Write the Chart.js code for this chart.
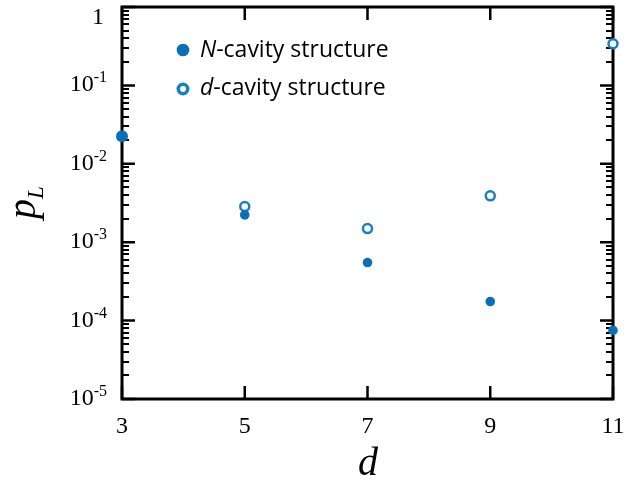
<!DOCTYPE html>
<html>
<head>
<meta charset="utf-8">
<script src="https://cdn.jsdelivr.net/npm/chart.js@4"></script>
<style>
 body{margin:0;background:#fff}
 canvas{display:block}
</style>
</head>
<body>
<canvas id="chart" width="641" height="481"></canvas>
<script>
// code distance d and logical error rate p_L
const dValues=[3,5,7,9,11];
const nCavity=[2.25e-2,2.23e-3,5.5e-4,1.75e-4,7.5e-5];
const dCavityD=[5,7,9,11];
const dCavity=[2.85e-3,1.49e-3,3.9e-3,3.4e-1];
const seriesNames=["N-cavity structure","d-cavity structure"];
const xTicks=[3,5,7,9,11];
const yExponents=[0,-1,-2,-3,-4,-5];

const blue="#0a6fb5";
const ring="#1a7fc1";
const serif="'Liberation Serif','Times New Roman',serif";

// box, inward ticks, tick labels, axis titles
const frame={
 id:"frame",
 beforeDatasetsDraw(c){
  const {ctx,chartArea:a,scales:{x,y}}=c;
  ctx.save();
  ctx.strokeStyle="#000";
  ctx.lineCap="butt";
  // minor ticks on both sides
  ctx.lineWidth=2;
  for(let e=-5;e<0;e++){
   for(let m=2;m<10;m++){
    const py=Math.round(y.getPixelForValue(m*Math.pow(10,e)));
    ctx.beginPath();
    ctx.moveTo(a.left,py);ctx.lineTo(a.left+7,py);
    ctx.moveTo(a.right,py);ctx.lineTo(a.right-7,py);
    ctx.stroke();
   }
  }
  // major ticks
  ctx.lineWidth=2.5;
  yExponents.forEach(e=>{
   const py=y.getPixelForValue(Math.pow(10,e));
   ctx.beginPath();
   ctx.moveTo(a.left,py);ctx.lineTo(a.left+13,py);
   ctx.moveTo(a.right,py);ctx.lineTo(a.right-13,py);
   ctx.stroke();
  });
  xTicks.forEach(v=>{
   const px=x.getPixelForValue(v);
   ctx.beginPath();
   ctx.moveTo(px,a.bottom);ctx.lineTo(px,a.bottom-13);
   ctx.moveTo(px,a.top);ctx.lineTo(px,a.top+13);
   ctx.stroke();
  });
  // box
  ctx.lineWidth=3;
  ctx.strokeRect(a.left,a.top,a.right-a.left,a.bottom-a.top);

  // tick labels
  ctx.fillStyle="#000";
  ctx.textBaseline="alphabetic";
  ctx.font="24px "+serif;
  ctx.textAlign="center";
  xTicks.forEach(v=>{
   ctx.fillText(String(v),x.getPixelForValue(v),433);
  });
  yExponents.forEach(e=>{
   const py=y.getPixelForValue(Math.pow(10,e));
   if(e===0){
    ctx.textAlign="right";
    ctx.font="24px "+serif;
    ctx.fillText("1",104,py+17);
    return;
   }
   ctx.font="16px "+serif;
   const sup=String(e);
   const sw=ctx.measureText(sup).width;
   ctx.textAlign="left";
   ctx.fillText(sup,107-sw,py-3);
   ctx.font="24px "+serif;
   ctx.textAlign="right";
   ctx.fillText("10",107-sw,py+6);
  });

  // axis titles
  ctx.font="italic 40px "+serif;
  ctx.textAlign="center";
  ctx.fillText("d",368,475);
  ctx.save();
  ctx.translate(35,219);
  ctx.rotate(-Math.PI/2);
  ctx.textAlign="left";
  ctx.font="italic 40px "+serif;
  const pw=ctx.measureText("p").width;
  ctx.fillText("p",0,0);
  ctx.font="italic 23px "+serif;
  ctx.fillText("L",pw,8);
  ctx.restore();
  ctx.restore();
 },
 afterDatasetsDraw(c){
  // legend in the upper left of the plot
  const ctx=c.ctx;
  ctx.save();
  ctx.beginPath();
  ctx.arc(183,50,6.3,0,Math.PI*2);
  ctx.fillStyle=blue;ctx.fill();
  ctx.beginPath();
  ctx.arc(183,89,4.7,0,Math.PI*2);
  ctx.lineWidth=3.6;ctx.strokeStyle=ring;ctx.stroke();
  ctx.fillStyle="#000";
  ctx.textAlign="left";
  ctx.textBaseline="alphabetic";
  const f="23px 'Open Sans'";
  [[seriesNames[0],57],[seriesNames[1],95]].forEach(([t,by])=>{
   const head=t.split("-")[0];
   const rest=t.slice(head.length);
   ctx.font="italic "+f;
   ctx.fillText(head,200,by);
   const hw=ctx.measureText(head).width;
   ctx.font=f;
   ctx.fillText(rest,200+hw,by);
  });
  ctx.restore();
 }
};

new Chart(document.getElementById("chart"),{
 type:"scatter",
 data:{
  datasets:[
   {label:seriesNames[0],data:dValues.map((d,i)=>({x:d,y:nCavity[i]})),
    backgroundColor:blue,borderWidth:0,pointRadius:[6,4.8,4.8,4.8,4.8],clip:false},
   {label:seriesNames[1],data:dCavityD.map((d,i)=>({x:d,y:dCavity[i]})),
    backgroundColor:"#fff",borderColor:ring,borderWidth:2.5,pointRadius:4.5,clip:false}
  ]
 },
 options:{
  responsive:false,
  animation:false,
  devicePixelRatio:1,
  layout:{padding:{left:122,right:28,top:5,bottom:82}},
  plugins:{legend:{display:false},tooltip:{enabled:false}},
  scales:{
   x:{type:"linear",min:3,max:11,display:false},
   y:{type:"logarithmic",min:1e-5,max:1,display:false}
  }
 },
 plugins:[frame]
});
</script>
</body>
</html>
